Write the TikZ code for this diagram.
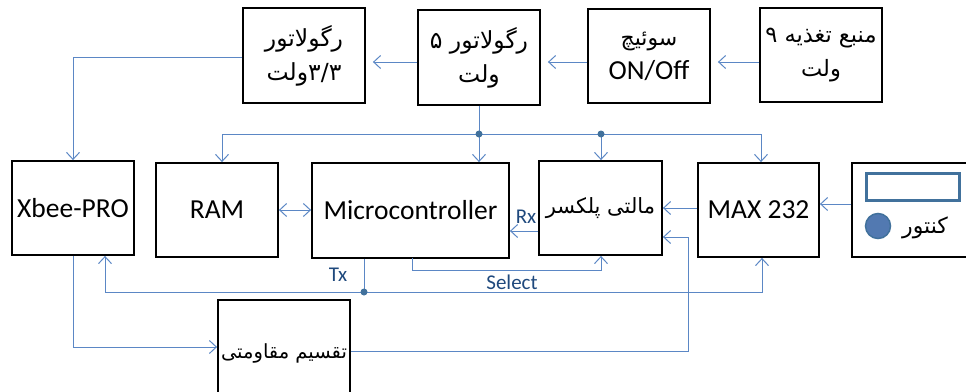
\documentclass[tikz,border=0pt]{standalone}
\usepackage{fontspec}
\setmainfont{Carlito}
\newfontfamily\fa[Script=Arabic]{DejaVu Sans}
\TeXXeTstate=1
\usetikzlibrary{arrows.meta}
\definecolor{ln}{HTML}{5B87C5}
\definecolor{dk}{HTML}{41719C}
\definecolor{lb}{HTML}{1F497D}
\newcommand{\fat}[2][21]{{\fa\fontsize{#1}{34}\selectfont\beginR #2\endR}}
\begin{document}
\begin{tikzpicture}[x=1pt,y=-1pt,
  box/.style={draw=black, line width=1.8pt, fill=white, align=center, inner sep=2pt,
    font=\fontsize{27.5}{34}\selectfont},
  arr/.style={draw=ln, line width=1pt, -{Straight Barb[length=7pt,width=13pt]}},
  darr/.style={draw=ln, line width=1pt, {Straight Barb[length=7pt,width=13pt]}-{Straight Barb[length=7pt,width=13pt]}},
  wire/.style={draw=ln, line width=1pt},
  dot/.style={circle, fill=dk, inner sep=0pt, minimum size=7pt},
  sig/.style={text=lb, font=\fontsize{21}{24}\selectfont, inner sep=0pt}]
\useasboundingbox (0,0) rectangle (966,391);
\clip (0,0) rectangle (966,391);
\fill[white] (0,0) rectangle (966,391);
% boxes
\node[box, minimum width=122pt, minimum height=95pt] (reg33) at (304,55.5) {\fat[23.5]{رگولاتور}\\{\fa\fontsize{23.5}{34}\selectfont\hbox{ولت}\hbox{۳/۳}}};
\node[box, minimum width=122pt, minimum height=95pt] (reg5) at (479,57.5) {\fat[23.5]{رگولاتور ۵}\\\fat[23.5]{ولت}};
\node[box, minimum width=122pt, minimum height=94pt] (sw) at (649,56) {\fat[22]{سوئیچ}\\ON/Off};
\node[box, minimum width=122pt, minimum height=94pt] (pwr) at (821,55) {\fat[22.5]{منبع تغذیه ۹}\\\fat[22.5]{ولت}};
\node[box, minimum width=122pt, minimum height=94pt] (xbee) at (73,208) {Xbee-PRO};
\node[box, minimum width=122pt, minimum height=94pt] (ram) at (217,210) {RAM};
\node[box, minimum width=197pt, minimum height=95pt] (mcu) at (410.5,210.5) {Microcontroller};
\node[box, minimum width=123pt, minimum height=94pt] (mux) at (600.5,208) {\fat{مالتی پلکسر}};
\node[box, minimum width=121pt, minimum height=94pt] (max) at (758.5,210) {MAX 232};
\node[box, minimum width=138pt, minimum height=94pt] (knt) at (921,210) {};
\node[box, minimum width=132pt, minimum height=106pt] (div) at (284,353) {\fat[19.5]{تقسیم مقاومتی}};
% contents of the counter box
\node[draw=dk, line width=2.5pt, fill=white, minimum width=93pt, minimum height=27pt, inner sep=0pt] (disp) at (913,187) {};
\node[circle, draw=dk, line width=1.5pt, fill=ln!90!black, minimum size=25pt, inner sep=0pt] (knob) at (878,226) {};
\node[inner sep=0pt] (kntl) at (925,228) {\fat[22]{کنتور}};
% helper coordinates
\coordinate (y62) at (0,62);
\coordinate (y57) at (0,57);
\coordinate (bus1) at (479,134);
\coordinate (bus2) at (601,134);
\coordinate (busL) at (222,134);
\coordinate (busR) at (761,134);
\coordinate (y204) at (0,204);
\coordinate (y231) at (0,231);
\coordinate (txd) at (364,292);
\coordinate (txL) at (105,292);
\coordinate (txR) at (762,292);
\coordinate (selT) at (412,258);
\coordinate (selB) at (412,270);
\coordinate (selR) at (601,270);
\coordinate (y347) at (0,347);
\coordinate (y351) at (0,351);
\coordinate (c688) at (688,237);
% top row arrows
\draw[arr, shorten >=7pt] (pwr.west |- y62) -- (sw.east |- y62);
\draw[arr, shorten >=7pt] (sw.west |- y62) -- (reg5.east |- y62);
\draw[arr, shorten >=7pt] (reg5.west |- y62) -- (reg33.east |- y62);
\draw[arr] (reg33.west |- y57) -| (xbee.north);
% power bus
\draw[wire] (reg5.south -| bus1) -- (bus1);
\draw[arr] (bus1) -- (busL) -- (busL |- ram.north);
\draw[arr] (bus1) -- (busR) -- (busR |- max.north);
\draw[arr] (bus1) -- (bus1 |- mcu.north);
\draw[arr] (bus2) -- (bus2 |- mux.north);
\node[dot] (d1) at (bus1) {};
\node[dot] (d2) at (bus2) {};
% middle row
\draw[darr] (ram.east) -- (mcu.west |- ram.east);
\draw[arr] (max.west |- mux.east) -- (mux.east);
\draw[arr] (knt.west |- y204) -- (max.east |- y204);
\draw[arr] (mux.west |- y231) -- (mcu.east |- y231);
\node[sig] (rx) at (526,217) {Rx};
% Tx
\draw[wire] (mcu.south -| txd) -- (txd);
\draw[arr] (txd) -- (txL) -- (txL |- xbee.south);
\draw[arr] (txd) -- (txR) -- (txR |- max.south);
\node[dot] (d3) at (txd) {};
\node[sig] (tx) at (338,275) {Tx};
% Select
\draw[arr] (selT) -- (selB) -- (selR) -- (selR |- mux.south);
\node[sig] (sel) at (512,282) {Select};
% resistor divider
\draw[arr] (xbee.south) |- (div.west |- y347);
\draw[arr] (div.east |- y351) -| (c688) -- (mux.east |- c688);
\end{tikzpicture}
\end{document}
